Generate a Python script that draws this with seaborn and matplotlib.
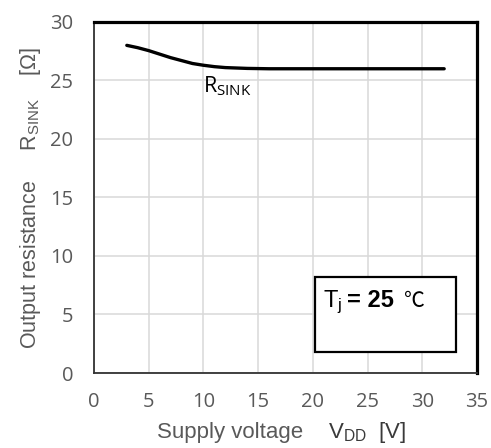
import matplotlib
matplotlib.use("Agg")
import matplotlib.pyplot as plt
import seaborn as sns
import pandas as pd
from matplotlib.patches import Rectangle

# R_SINK versus supply voltage at Tj = 25 °C
vdd = [3, 4, 5, 6, 7, 8, 9, 10, 11, 12, 14, 16, 20, 25, 32]
r_sink = [28.0, 27.8, 27.55, 27.25, 26.95, 26.7, 26.45, 26.3, 26.18, 26.1, 26.03, 26.0, 26.0, 26.0, 26.0]
x_ticks = [0, 5, 10, 15, 20, 25, 30, 35]
y_ticks = [0, 5, 10, 15, 20, 25, 30]

sns.set_theme(style="white")
plt.rcParams["font.family"] = ["Liberation Sans", "DejaVu Sans"]
plt.rcParams["mathtext.fontset"] = "custom"
plt.rcParams["mathtext.rm"] = "Liberation Sans"
plt.rcParams["mathtext.sf"] = "Open Sans"
plt.rcParams["mathtext.bf"] = "Liberation Sans:bold"

df = pd.DataFrame({"vdd": vdd, "r": r_sink})

fig = plt.figure(figsize=(4.91, 4.48), dpi=100)
ax = fig.add_axes([0.1914, 0.1674, 0.7801, 0.7836])

sns.lineplot(data=df, x="vdd", y="r", ax=ax, color="black", linewidth=2.4)

ax.set_xlim(0, 35)
ax.set_ylim(0, 30)
ax.set_xticks(x_ticks)
ax.set_yticks(y_ticks)
ax.grid(True, color="#d9d9d9", linewidth=1.1)
ax.set_axisbelow(True)

grey = "#595959"
ax.tick_params(axis="both", length=0, labelsize=14.5, labelcolor=grey)
ax.tick_params(axis="y", pad=15)
ax.tick_params(axis="x", pad=14)
for lbl in ax.get_xticklabels() + ax.get_yticklabels():
    lbl.set_family(["Open Sans", "DejaVu Sans"])

for side in ("top", "right"):
    ax.spines[side].set_color("black")
    ax.spines[side].set_linewidth(2.3)
for side in ("left", "bottom"):
    ax.spines[side].set_color("#333333")
    ax.spines[side].set_linewidth(1.3)

ax.set_ylabel(r"Output resistance     $\mathregular{R_{SINK}}$    [Ω]",
              fontsize=15.5, color=grey, labelpad=5)
# x label drawn in two parts with different tones
ax.set_xlabel("")
fig.text(0.617, 0.0225, "Supply voltage", fontsize=16, color=grey,
         ha="right", va="baseline")
fig.text(0.668, 0.0225, r"$\mathregular{V_{DD}}$  [V]", fontsize=16,
         color="#3a3a3a", ha="left", va="baseline")

# curve label
ax.text(9.95, 24.02, r"$\mathsf{R_{SINK}}$", fontsize=15.5, color="black",
        ha="left", va="baseline")

# junction temperature box
ax.add_patch(Rectangle((20.2, 1.8), 12.9, 6.4, fill=True, facecolor="white",
                       edgecolor="black", linewidth=1.6, zorder=3))
ax.text(20.93, 5.64, r"$\mathregular{T_j}$", fontsize=17, color="black",
        ha="left", va="baseline", zorder=4)
ax.text(23.1, 5.64, "= 25", fontsize=17, color="black", fontweight="bold",
        ha="left", va="baseline", zorder=4)
ax.text(28.3, 5.64, "℃", fontsize=15, color="black", ha="left", va="baseline",
        family=["Noto Sans CJK JP", "DejaVu Sans"], zorder=4)

fig.savefig("out.png", dpi=100)
